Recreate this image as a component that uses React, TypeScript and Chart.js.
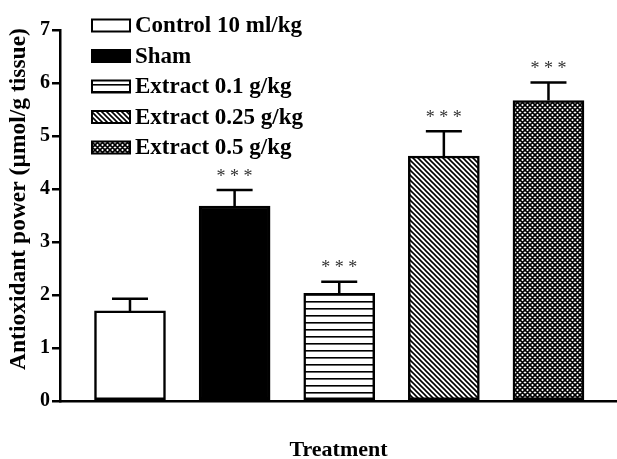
import { useEffect, useRef } from "react";
import { Chart, registerables } from "chart.js";

Chart.register(...registerables);

const categories = [
  "Control 10 ml/kg",
  "Sham",
  "Extract 0.1 g/kg",
  "Extract 0.25 g/kg",
  "Extract 0.5 g/kg",
];
const means = [1.7, 3.68, 2.03, 4.62, 5.67];
const errors = [0.23, 0.3, 0.22, 0.47, 0.34];
const significance = ["", "***", "***", "***", "***"];
const patternKinds = ["white", "black", "hlines", "diag", "cross"];
const yAxisTitle = "Antioxidant power (\u00b5mol/g tissue)";
const xAxisTitle = "Treatment";

const FONT = "'Liberation Serif', 'Times New Roman', serif";

function makePattern(kind: string): string | CanvasPattern {
  if (kind === "white") return "#ffffff";
  if (kind === "black") return "#000000";
  const c = document.createElement("canvas");
  const ctx = c.getContext("2d")!;
  if (kind === "hlines") {
    c.width = 8;
    c.height = 7;
    ctx.fillStyle = "#fff";
    ctx.fillRect(0, 0, 8, 7);
    ctx.fillStyle = "#000";
    ctx.fillRect(0, 0, 8, 1.6);
  } else {
    const s = 5;
    c.width = s;
    c.height = s;
    ctx.fillStyle = "#fff";
    ctx.fillRect(0, 0, s, s);
    ctx.strokeStyle = "#000";
    ctx.lineWidth = 1.6;
    ctx.beginPath();
    ctx.moveTo(-1, -1);
    ctx.lineTo(s + 1, s + 1);
    ctx.moveTo(-1, s - 1);
    ctx.lineTo(1, s + 1);
    ctx.moveTo(s - 1, -1);
    ctx.lineTo(s + 1, 1);
    if (kind === "cross") {
      ctx.moveTo(s + 1, -1);
      ctx.lineTo(-1, s + 1);
      ctx.moveTo(1, -1);
      ctx.lineTo(-1, 1);
      ctx.moveTo(s + 1, s - 1);
      ctx.lineTo(s - 1, s + 1);
    }
    ctx.stroke();
  }
  return ctx.createPattern(c, "repeat")!;
}

export default function App() {
  const ref = useRef<HTMLCanvasElement | null>(null);

  useEffect(() => {
    document.body.style.margin = "0";
    const canvas = ref.current!;
    const fills = patternKinds.map(makePattern);

    const errorBars = {
      id: "errorBars",
      afterDatasetsDraw(chart: any) {
        const { ctx } = chart;
        const meta = chart.getDatasetMeta(0);
        const y = chart.scales.y;
        ctx.save();
        ctx.strokeStyle = "#000";
        ctx.lineWidth = 2.5;
        meta.data.forEach((bar: any, i: number) => {
          const x = bar.x;
          const yBar = y.getPixelForValue(means[i]);
          const yTop = y.getPixelForValue(means[i] + errors[i]);
          ctx.beginPath();
          ctx.moveTo(x, yBar);
          ctx.lineTo(x, yTop);
          ctx.moveTo(x - 18, yTop);
          ctx.lineTo(x + 18, yTop);
          ctx.stroke();
          if (significance[i]) {
            ctx.fillStyle = "#333";
            ctx.font = `18px ${FONT}`;
            ctx.textAlign = "center";
            ctx.textBaseline = "middle";
            ctx.fillText(significance[i].split("").join(" "), x, yTop - 13);
          }
        });
        ctx.restore();
      },
    };

    const textPlugin = {
      id: "patternLegendAndTitle",
      afterDraw(chart: any) {
        const { ctx } = chart;
        ctx.save();
        ctx.font = `bold 23px ${FONT}`;
        ctx.textBaseline = "middle";
        ctx.textAlign = "left";
        categories.forEach((label, i) => {
          const cy = 25.5 + i * 30.5;
          ctx.fillStyle = fills[i];
          ctx.fillRect(92, cy - 6, 38, 12);
          ctx.strokeStyle = "#000";
          ctx.lineWidth = 2;
          ctx.strokeRect(92, cy - 6, 38, 12);
          ctx.fillStyle = "#000";
          ctx.fillText(label, 135, cy + 1);
        });
        // y-axis title
        ctx.font = `bold 23.5px ${FONT}`;
        ctx.translate(18, 199);
        ctx.rotate(-Math.PI / 2);
        ctx.textAlign = "center";
        ctx.fillText(yAxisTitle, 0, 1);
        ctx.restore();
      },
    };

    const chart = new Chart(canvas, {
      type: "bar",
      data: {
        labels: categories,
        datasets: [
          {
            label: "Antioxidant power",
            data: means.map((v, i) => ({ x: i + 1, y: v })) as any,
            backgroundColor: fills as any,
            borderColor: "#000",
            borderWidth: 2.5,
            borderSkipped: false,
            barThickness: 71,
          },
        ],
      },
      options: {
        animation: false,
        responsive: false,
        maintainAspectRatio: false,
        layout: { padding: { top: 30, right: 0, bottom: 0, left: 0 } },
        plugins: {
          legend: { display: false },
          tooltip: { enabled: false },
        },
        scales: {
          x: {
            type: "linear",
            offset: false,
            min: 0.331,
            max: 5.655,
            ticks: { display: false },
            grid: { display: false },
            border: { display: true, color: "#000", width: 2.5 },
            title: {
              display: true,
              text: xAxisTitle,
              color: "#000",
              font: { family: FONT, size: 22, weight: "bold" },
              padding: { top: 0, bottom: -5 },
            },
            afterFit(scale: any) {
              scale.height = 58;
            },
          },
          y: {
            min: 0,
            max: 7,
            ticks: {
              stepSize: 1,
              color: "#000",
              padding: 2,
              font: { family: FONT, size: 20, weight: "bold" },
            },
            grid: {
              drawOnChartArea: false,
              drawTicks: true,
              tickLength: 8,
              color: "#000",
              lineWidth: 2.5,
            },
            border: { display: true, color: "#000", width: 2.5 },
            afterFit(scale: any) {
              scale.width = 60;
            },
          },
        },
      },
      plugins: [errorBars, textPlugin],
    });
    return () => chart.destroy();
  }, []);

  return <canvas ref={ref} width={617} height={459} style={{ display: "block" }} />;
}
